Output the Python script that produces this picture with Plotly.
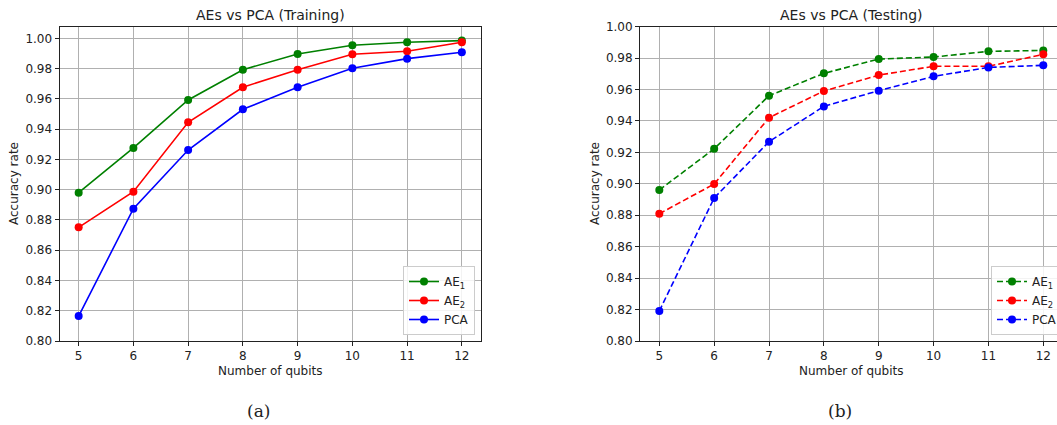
import plotly.graph_objects as go

qubits = [5, 6, 7, 8, 9, 10, 11, 12]

train_ae1 = [0.898, 0.9276, 0.9593, 0.9793, 0.9897, 0.9954, 0.9974, 0.9985]
train_ae2 = [0.8751, 0.8987, 0.9445, 0.9677, 0.9793, 0.9895, 0.9915, 0.9974]
train_pca = [0.8165, 0.8874, 0.9262, 0.9531, 0.9677, 0.9802, 0.9866, 0.9908]

test_ae1 = [0.8961, 0.9223, 0.9561, 0.9703, 0.9794, 0.9807, 0.9843, 0.9849]
test_ae2 = [0.8810, 0.8999, 0.9421, 0.9591, 0.9692, 0.9748, 0.9748, 0.9824]
test_pca = [0.8191, 0.8910, 0.9268, 0.9493, 0.9593, 0.9684, 0.9741, 0.9754]

series_names = ["AE<sub>1</sub>", "AE<sub>2</sub>", "PCA"]
colors = ["green", "red", "blue"]
y_ticks = [0.80, 0.82, 0.84, 0.86, 0.88, 0.90, 0.92, 0.94, 0.96, 0.98, 1.00]

W, H = 1057, 425
FONT = "DejaVu Sans, Verdana, sans-serif"

fig = go.Figure()

for name, col, ys in zip(series_names, colors, [train_ae1, train_ae2, train_pca]):
    fig.add_trace(go.Scatter(x=qubits, y=ys, name=name, mode="lines+markers",
                             line=dict(color=col, width=1.6),
                             marker=dict(color=col, size=8),
                             xaxis="x", yaxis="y", legend="legend"))
for name, col, ys in zip(series_names, colors, [test_ae1, test_ae2, test_pca]):
    fig.add_trace(go.Scatter(x=qubits, y=ys, name=name, mode="lines+markers",
                             line=dict(color=col, width=1.6, dash="6px,3px"),
                             marker=dict(color=col, size=8),
                             xaxis="x2", yaxis="y2", legend="legend2"))

def px_x(p):
    return p / W

def px_y(p):
    return 1 - p / H

axis_common = dict(
    showgrid=True, gridcolor="#b0b0b0", gridwidth=0.8,
    showline=True, linecolor="#222222", linewidth=1,
    ticks="outside", ticklen=4, tickwidth=1, tickcolor="#222222",
    tickfont=dict(family=FONT, size=12, color="#222222"),
    zeroline=False, automargin=False,
)

fig.update_layout(
    template="none",
    width=W, height=H,
    margin=dict(l=0, r=0, t=0, b=0, autoexpand=False),
    paper_bgcolor="white", plot_bgcolor="white",
    font=dict(family=FONT, size=12, color="#222222"),
    xaxis=dict(domain=[px_x(59.5), px_x(481)], range=[4.65, 12.35],
               tickvals=qubits, mirror=True, anchor="y", **axis_common),
    yaxis=dict(domain=[px_y(341), px_y(26.7)], range=[0.80, 1.0077],
               tickvals=y_ticks, tickformat=".2f", mirror=True, anchor="x", **axis_common),
    xaxis2=dict(domain=[px_x(640), 1.0], range=[4.648, 12.25],
                tickvals=qubits, mirror=True, anchor="y2", **axis_common),
    yaxis2=dict(domain=[px_y(341), px_y(26.7)], range=[0.80, 1.00],
                tickvals=y_ticks, tickformat=".2f", mirror=False, anchor="x2", **axis_common),
    legend=dict(x=px_x(475), y=px_y(335), xanchor="right", yanchor="bottom",
                bgcolor="rgba(255,255,255,0.85)", bordercolor="#cccccc", borderwidth=1,
                font=dict(family=FONT, size=12, color="#222222"), tracegroupgap=0,
                itemwidth=30),
    legend2=dict(x=px_x(991), y=px_y(335), xanchor="left", yanchor="bottom",
                 bgcolor="rgba(255,255,255,0.85)", bordercolor="#cccccc", borderwidth=1,
                 font=dict(family=FONT, size=12, color="#222222"), tracegroupgap=0,
                 itemwidth=30),
    showlegend=True,
)

ann = []
ann.append(dict(text="AEs vs PCA (Training)", x=px_x(270), y=px_y(15), xref="paper", yref="paper",
                showarrow=False, font=dict(family=FONT, size=14, color="#222222"),
                xanchor="center", yanchor="middle"))
ann.append(dict(text="AEs vs PCA (Testing)", x=px_x(851), y=px_y(15), xref="paper", yref="paper",
                showarrow=False, font=dict(family=FONT, size=14, color="#222222"),
                xanchor="center", yanchor="middle"))
for xc in [270, 851]:
    ann.append(dict(text="Number of qubits", x=px_x(xc), y=px_y(370.5), xref="paper", yref="paper",
                    showarrow=False, font=dict(family=FONT, size=12, color="#222222"),
                    xanchor="center", yanchor="middle"))
for xc in [14, 595]:
    ann.append(dict(text="Accuracy rate", x=px_x(xc), y=px_y(184), xref="paper", yref="paper",
                    showarrow=False, textangle=-90, font=dict(family=FONT, size=12, color="#222222"),
                    xanchor="center", yanchor="middle"))
ann.append(dict(text="(a)", x=px_x(258.5), y=px_y(411), xref="paper", yref="paper",
                showarrow=False, font=dict(family="DejaVu Serif, Liberation Serif, serif", size=17, color="#222222"),
                xanchor="center", yanchor="middle"))
ann.append(dict(text="(b)", x=px_x(840), y=px_y(411), xref="paper", yref="paper",
                showarrow=False, font=dict(family="DejaVu Serif, Liberation Serif, serif", size=17, color="#222222"),
                xanchor="center", yanchor="middle"))
fig.update_layout(annotations=ann)

fig.write_html("out.html")
